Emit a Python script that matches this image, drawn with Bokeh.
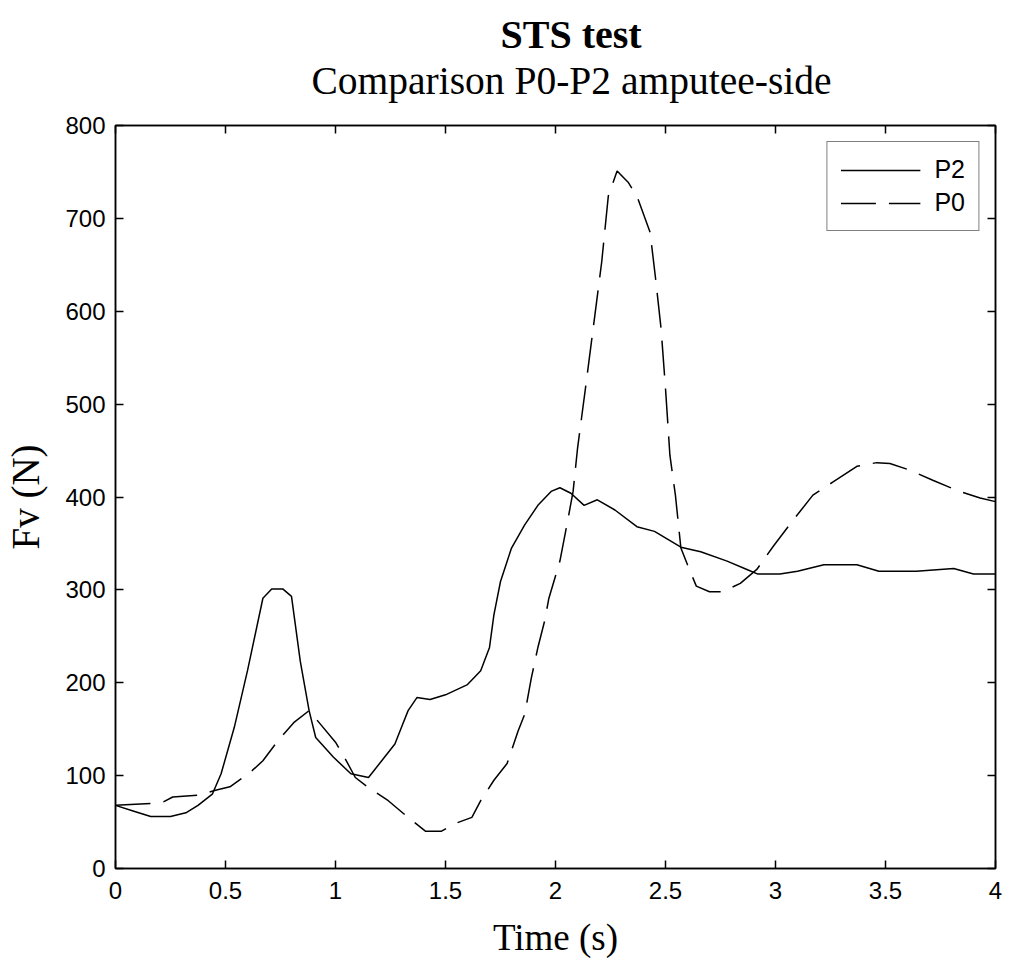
from bokeh.plotting import figure
from bokeh.models import (LinearAxis, Title, FixedTicker, Range1d, Legend, LegendItem,
                          CustomLabelingPolicy)
from bokeh.embed import file_html
from bokeh.resources import INLINE

# ---- data ----
p2_t = [0.00, 0.08, 0.16, 0.25, 0.32, 0.375, 0.44, 0.48, 0.54, 0.60, 0.67, 0.71, 0.76, 0.80,
        0.84, 0.88, 0.91, 0.99, 1.07, 1.15, 1.21, 1.27, 1.30, 1.33, 1.37, 1.43, 1.50, 1.60,
        1.66, 1.70, 1.72, 1.75, 1.80, 1.86, 1.92, 1.98, 2.02, 2.07, 2.13, 2.19, 2.27, 2.37,
        2.45, 2.57, 2.66, 2.78, 2.87, 2.92, 3.02, 3.10, 3.22, 3.32, 3.37, 3.47, 3.64, 3.81,
        3.90, 4.00]
p2_f = [68, 62, 56, 56, 60, 68, 80, 102, 152, 213, 291, 301, 301, 293,
        223, 170, 141, 120, 102, 98, 116, 134, 152, 170, 184, 182, 187, 198,
        213, 238, 273, 309, 345, 370, 391, 406, 410, 404, 391, 397, 386, 368,
        363, 346, 341, 331, 322, 317, 317, 320, 327, 327, 327, 320, 320, 323,
        317, 317]

p0_t = [0.00, 0.16, 0.22, 0.26, 0.38, 0.45, 0.52, 0.61, 0.67, 0.74, 0.81, 0.88, 1.00, 1.04,
        1.09, 1.15, 1.24, 1.33, 1.41, 1.48, 1.55, 1.62, 1.66, 1.72, 1.78, 1.83, 1.86, 1.89,
        1.92, 1.95, 1.97, 2.02, 2.055, 2.08, 2.10, 2.12, 2.14, 2.21, 2.24, 2.28, 2.33, 2.37,
        2.43, 2.455, 2.48, 2.50, 2.52, 2.545, 2.57, 2.60, 2.64, 2.70, 2.76, 2.84, 2.915, 2.99,
        3.08, 3.17, 3.26, 3.37, 3.46, 3.52, 3.61, 3.715, 3.836, 3.93, 4.00]
p0_f = [68, 70, 72, 77, 79, 84, 88, 103, 116, 138, 157, 170, 136, 120,
        98, 87, 73, 55, 40, 40, 49, 55, 73, 95, 113, 148, 166, 205,
        238, 266, 291, 331, 374, 406, 452, 488, 524, 653, 724, 751, 739, 724,
        685, 635, 581, 517, 445, 402, 345, 327, 304, 298, 298, 307, 322, 347,
        375, 402, 416, 433, 437, 436, 429, 418, 406, 399, 395]

x_ticks = [0, 0.5, 1, 1.5, 2, 2.5, 3, 3.5, 4]
x_tick_labels = ["0", "0.5", "1", "1.5", "2", "2.5", "3", "3.5", "4"]
y_ticks = [0, 100, 200, 300, 400, 500, 600, 700, 800]

title_text = "STS test"
subtitle_text = "Comparison P0-P2 amputee-side"
x_label = "Time (s)"
y_label = "Fv (N)"

SERIF = "Liberation Serif"
SANS = "Liberation Sans"

p = figure(width=1010, height=960, output_backend="svg", toolbar_location=None,
           title=None,
           x_range=Range1d(0, 4), y_range=Range1d(0, 800),
           min_border_left=115, min_border_right=15, min_border_top=125, min_border_bottom=84)

p.background_fill_color = "white"
p.border_fill_color = "white"
p.outline_line_color = "black"
p.outline_line_width = 1.5
p.xgrid.visible = False
p.ygrid.visible = False

bottom_ax = p.below[0]
left_ax = p.left[0]


def style_axis(ax, show_labels=True):
    ax.major_tick_in = 8
    ax.major_tick_out = 0
    ax.minor_tick_line_color = None
    ax.axis_line_color = "black"
    ax.axis_line_width = 1.5
    ax.major_tick_line_color = "black"
    ax.major_tick_line_width = 1.5
    if show_labels:
        ax.major_label_text_font = SANS
        ax.major_label_text_font_size = "24px"
        ax.major_label_text_color = "black"
    else:
        ax.major_label_text_font_size = "1px"
        ax.major_label_standoff = 0
        ax.major_label_policy = CustomLabelingPolicy(code="return []")


# inner ticks on the top and right edges (box on), added first so they hug the frame
top_ax = LinearAxis(ticker=FixedTicker(ticks=x_ticks))
style_axis(top_ax, show_labels=False)
top_ax.major_label_standoff = 19
p.add_layout(top_ax, "above")
right_ax = LinearAxis(ticker=FixedTicker(ticks=y_ticks))
style_axis(right_ax, show_labels=False)
p.add_layout(right_ax, "right")

# titles (subtitle added first -> closer to the plot)
p.add_layout(Title(text=subtitle_text, text_font=SERIF, text_font_size="39.5px",
                   text_font_style="normal", align="left", offset=196,
                   text_color="black", standoff=0), "above")
p.add_layout(Title(text=title_text, text_font=SERIF, text_font_size="40px",
                   text_font_style="bold", align="left", offset=385,
                   text_color="black", standoff=0), "above")

bottom_ax.ticker = FixedTicker(ticks=x_ticks)
bottom_ax.major_label_overrides = {t: s for t, s in zip(x_ticks, x_tick_labels)}
left_ax.ticker = FixedTicker(ticks=y_ticks)
style_axis(bottom_ax)
style_axis(left_ax)
bottom_ax.major_label_standoff = 13
left_ax.major_label_standoff = 10
bottom_ax.axis_label = x_label
left_ax.axis_label = y_label
for ax in (bottom_ax, left_ax):
    ax.axis_label_text_font = SERIF
    ax.axis_label_text_font_style = "normal"
    ax.axis_label_text_color = "black"
bottom_ax.axis_label_text_font_size = "37px"
left_ax.axis_label_text_font_size = "39px"
bottom_ax.axis_label_standoff = 15
left_ax.axis_label_standoff = 15

r2 = p.line(p2_t, p2_f, line_color="black", line_width=1.5)
r0 = p.line(p0_t, p0_f, line_color="black", line_width=1.5, line_dash="35 13")

legend = Legend(items=[LegendItem(label="P2", renderers=[r2]),
                       LegendItem(label="P0", renderers=[r0])],
                location="top_right")
legend.label_text_font = SANS
legend.label_text_font_size = "25px"
legend.label_text_color = "black"
legend.glyph_width = 80
legend.glyph_height = 28
legend.label_height = 28
legend.spacing = 4
legend.padding = 13
legend.margin = 16
legend.label_standoff = 14
legend.border_line_color = "black"
legend.border_line_width = 1.5
legend.background_fill_color = "white"
legend.background_fill_alpha = 1.0
p.add_layout(legend)

open("out.html", "w").write(file_html(p, INLINE))
